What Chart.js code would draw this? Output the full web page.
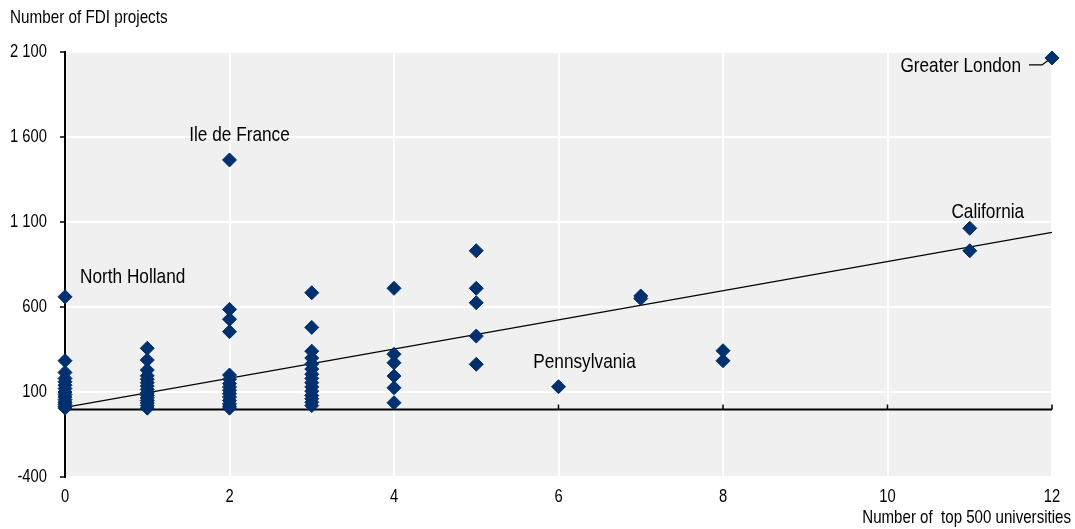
<!DOCTYPE html>
<html>
<head>
<meta charset="utf-8">
<script src="https://cdn.jsdelivr.net/npm/chart.js@4"></script>
<style>
  html, body { margin: 0; padding: 0; background: #ffffff; }
  #wrap { width: 1075px; height: 529px; }
</style>
</head>
<body>
<div id="wrap"><canvas id="chart" width="1075" height="529"></canvas></div>
<script>
// Regions named on the chart
const namedRegions = ['Greater London', 'Ile de France', 'California', 'North Holland', 'Pennsylvania'];
const namedUniversities = [12, 2, 11, 0, 6];
const namedFdi = [2065, 1465, 1063, 660, 131];

// All other regions: number of top 500 universities and FDI projects
const otherUniversities = [
  0, 0, 0, 0, 0, 0, 0, 0, 0, 0, 0, 0, 0, 0,
  1, 1, 1, 1, 1, 1, 1, 1, 1, 1, 1, 1, 1, 1, 1,
  2, 2, 2, 2, 2, 2, 2, 2, 2, 2, 2, 2, 2, 2,
  3, 3, 3, 3, 3, 3, 3, 3, 3, 3, 3, 3, 3, 3, 3,
  4, 4, 4, 4, 4, 4,
  5, 5, 5, 5, 5,
  7, 7,
  8, 8,
  11
];
const otherFdi = [
  284, 215, 180, 160, 140, 120, 100, 85, 70, 55, 40, 28, 15, 5,
  357, 288, 229, 195, 175, 155, 135, 115, 95, 80, 65, 50, 35, 20, 5,
  586, 528, 455, 200, 175, 150, 130, 110, 90, 70, 50, 30, 15, 5,
  684, 480, 340, 300, 265, 235, 205, 180, 155, 130, 105, 80, 60, 40, 20,
  710, 322, 272, 194, 125, 37,
  931, 710, 625, 429, 263,
  665, 650,
  343, 284,
  931
];

// Linear trend line end points
const trendUniversities = [0, 12];
const trendFdi = [10, 1039];

// Axis ticks
const xTickValues = [0, 2, 4, 6, 8, 10, 12];
const yTickValues = [-400, 100, 600, 1100, 1600, 2100];

const yTitle = 'Number of FDI projects';
const xTitle = 'Number of  top 500 universities';

const FONT = "'Liberation Sans', Arial, sans-serif";
const NARROW = 0.82;   // horizontal squeeze giving a narrow typeface look
const MARK = '#00306e';
const INK = '#000000';

const allUniversities = namedUniversities.concat(otherUniversities);
const allFdi = namedFdi.concat(otherFdi);
const scatterPoints = allUniversities.map((u, i) => ({ x: u, y: allFdi[i] }));
const trendPoints = trendUniversities.map((u, i) => ({ x: u, y: trendFdi[i] }));

function spaced(v) {
  const s = String(Math.abs(v)).replace(/\B(?=(\d{3})+(?!\d))/g, ' ');
  return (v < 0 ? '-' : '') + s;
}

function narrowText(ctx, text, x, y, size, align) {
  ctx.save();
  ctx.translate(x, y);
  ctx.scale(NARROW, 1);
  ctx.font = size + 'px ' + FONT;
  ctx.fillStyle = INK;
  ctx.textAlign = align;
  ctx.textBaseline = 'middle';
  ctx.fillText(text, 0, 0);
  ctx.restore();
}

// Where each region name sits relative to its marker
const labelPlacement = {
  'Greater London': { dx: -31, dy: 8, align: 'right', leader: true },
  'Ile de France': { dx: 10, dy: -25, align: 'center' },
  'California': { dx: 18, dy: -16, align: 'center' },
  'North Holland': { dx: 15, dy: -20, align: 'left' },
  'Pennsylvania': { dx: 26, dy: -25, align: 'center' }
};

const decorations = {
  id: 'decorations',
  beforeDraw(chart) {
    const { ctx, chartArea: a } = chart;
    ctx.save();
    ctx.fillStyle = '#f0f0f0';
    ctx.fillRect(a.left, a.top, a.right - a.left, a.bottom - a.top);
    ctx.restore();
  },
  beforeDatasetsDraw(chart) {
    // horizontal axis line through zero with upward ticks
    const { ctx, chartArea: a, scales } = chart;
    const y0 = Math.round(scales.y.getPixelForValue(0)) + 0.5;
    ctx.save();
    ctx.strokeStyle = '#000000';
    ctx.lineWidth = 2;
    ctx.beginPath();
    ctx.moveTo(a.left, y0);
    ctx.lineTo(a.right, y0);
    ctx.stroke();
    ctx.lineWidth = 1.5;
    xTickValues.forEach(v => {
      if (v === 0) return;
      const x = scales.x.getPixelForValue(v);
      ctx.beginPath();
      ctx.moveTo(x, y0);
      ctx.lineTo(x, y0 - 5);
      ctx.stroke();
    });
    ctx.restore();
  },
  afterDatasetsDraw(chart) {
    const { ctx, scales } = chart;
    namedRegions.forEach((name, i) => {
      const p = labelPlacement[name];
      const px = scales.x.getPixelForValue(namedUniversities[i]);
      const py = scales.y.getPixelForValue(namedFdi[i]);
      narrowText(ctx, name, px + p.dx, py + p.dy, 21, p.align);
      if (p.leader) {
        ctx.save();
        ctx.strokeStyle = '#000000';
        ctx.lineWidth = 1.3;
        ctx.beginPath();
        ctx.moveTo(px - 23, py + 7);
        ctx.lineTo(px - 10, py + 7);
        ctx.lineTo(px - 4, py + 2.5);
        ctx.stroke();
        ctx.restore();
      }
    });
  },
  afterDraw(chart) {
    const { ctx, scales } = chart;
    // tick labels
    yTickValues.forEach(v => {
      narrowText(ctx, spaced(v), 47, scales.y.getPixelForValue(v), 18, 'right');
    });
    xTickValues.forEach(v => {
      narrowText(ctx, spaced(v), scales.x.getPixelForValue(v), 497, 18, 'center');
    });
    // axis titles
    narrowText(ctx, yTitle, 10, 18, 18.6, 'left');
    narrowText(ctx, xTitle, 1071, 518, 18.4, 'right');
  }
};

new Chart(document.getElementById('chart'), {
  type: 'scatter',
  data: {
    datasets: [
      {
        type: 'scatter',
        data: scatterPoints,
        pointStyle: 'rectRot',
        pointRadius: 7,
        pointHoverRadius: 7,
        backgroundColor: MARK,
        borderColor: MARK,
        borderWidth: 1,
        clip: false,
        order: 0
      },
      {
        type: 'line',
        data: trendPoints,
        borderColor: '#000000',
        borderWidth: 1.3,
        pointRadius: 0,
        fill: false,
        order: 1
      }
    ]
  },
  options: {
    responsive: false,
    animation: false,
    events: [],
    layout: { padding: { top: 52, right: 23, bottom: 0, left: 0 } },
    plugins: { legend: { display: false }, tooltip: { enabled: false } },
    scales: {
      x: {
        type: 'linear',
        min: 0,
        max: 12,
        afterBuildTicks: s => { s.ticks = xTickValues.map(v => ({ value: v })); },
        afterFit: s => { s.height = 52; },
        grid: { color: '#ffffff', lineWidth: 2, drawTicks: false },
        border: { display: false },
        ticks: { display: false }
      },
      y: {
        type: 'linear',
        min: -400,
        max: 2100,
        afterBuildTicks: s => { s.ticks = yTickValues.map(v => ({ value: v })); },
        afterFit: s => { s.width = 65; },
        grid: { color: '#ffffff', lineWidth: 2, tickColor: '#000000', tickLength: 5, tickWidth: 1.5 },
        border: { display: true, color: '#000000', width: 2 },
        ticks: { display: false }
      }
    }
  },
  plugins: [decorations]
});
</script>
</body>
</html>
